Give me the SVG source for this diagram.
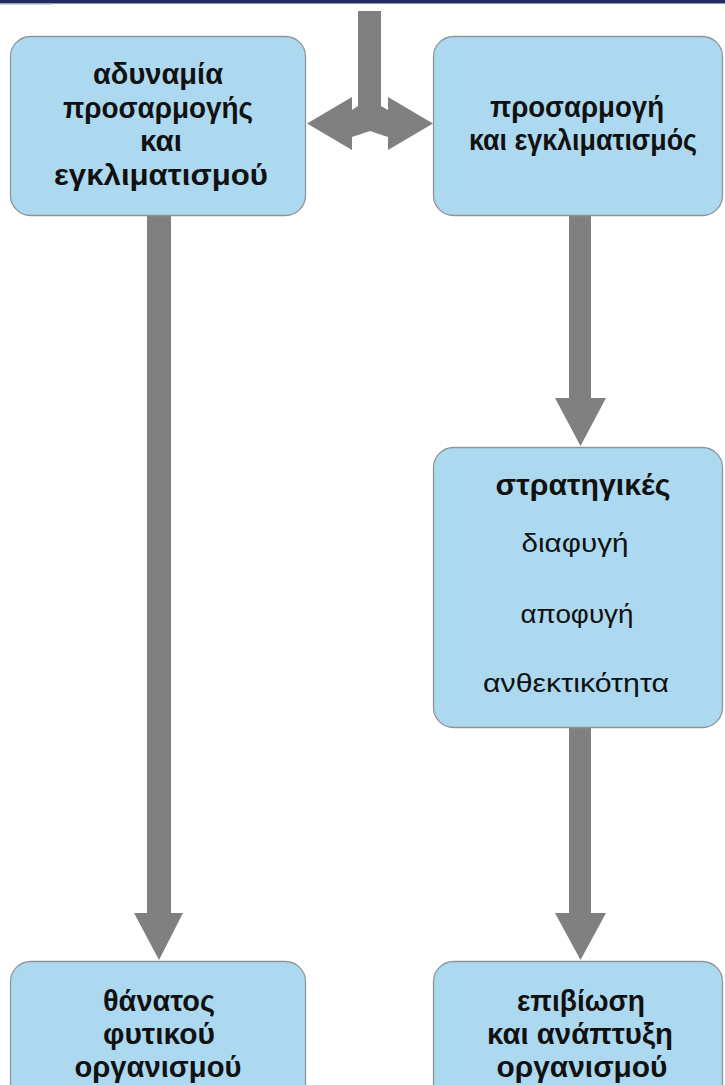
<svg xmlns="http://www.w3.org/2000/svg" width="725" height="1085" viewBox="0 0 725 1085">
<style>
.box{fill:#acd9f0;stroke:#8e9599;stroke-width:1.3}
.arrow{fill:#808080}
.b{font-family:"Liberation Sans",Arial,sans-serif;font-weight:bold;font-size:29px;fill:#111;text-anchor:middle}
.r{font-family:"Liberation Sans",Arial,sans-serif;font-size:26px;fill:#111;text-anchor:middle}
</style>
<rect width="725" height="1085" fill="#ffffff"/>
<rect x="0" y="0" width="725" height="3.5" fill="#232b5e"/>
<rect x="0" y="3" width="52" height="1.5" fill="#9aa3c8"/>
<g id="connectors">
<polygon class="arrow" points="358,11 381,11 381,106 388,110 388,97 433,123.5 388,150 388,137 370,131 352,137 352,150 307,123.5 352,97 352,110 358,106"/>
<polygon class="arrow" points="147,216 171,216 171,913 183,913 159,960 134,913 147,913"/>
<polygon class="arrow" points="569,216 591,216 591,398 606,398 580.5,446 555,398 569,398"/>
<polygon class="arrow" points="569,728 591,728 591,913 606,913 580.5,960 555,913 569,913"/>
</g>
<g id="node-adynamia">
<rect class="box" x="10.5" y="36.5" width="295" height="179" rx="20"/>
<text class="b" x="158" y="84" textLength="130" lengthAdjust="spacingAndGlyphs">αδυναμία</text>
<text class="b" x="158" y="118" textLength="190" lengthAdjust="spacingAndGlyphs">προσαρμογής</text>
<text class="b" x="161" y="151" textLength="42" lengthAdjust="spacingAndGlyphs">και</text>
<text class="b" x="161" y="185" textLength="214" lengthAdjust="spacingAndGlyphs">εγκλιματισμού</text>
</g>
<g id="node-prosarmogi">
<rect class="box" x="433.5" y="36.5" width="289" height="179" rx="20"/>
<text class="b" x="577" y="117" textLength="174" lengthAdjust="spacingAndGlyphs">προσαρμογή</text>
<text class="b" x="583" y="150" textLength="228" lengthAdjust="spacingAndGlyphs">και εγκλιματισμός</text>
</g>
<g id="node-strategikes">
<rect class="box" x="433.5" y="447.5" width="289" height="280" rx="20"/>
<text class="b" x="583" y="495" textLength="175" lengthAdjust="spacingAndGlyphs">στρατηγικές</text>
<text class="r" x="575" y="552" textLength="107" lengthAdjust="spacingAndGlyphs">διαφυγή</text>
<text class="r" x="577" y="623" textLength="113" lengthAdjust="spacingAndGlyphs">αποφυγή</text>
<text class="r" x="576" y="692" textLength="186" lengthAdjust="spacingAndGlyphs">ανθεκτικότητα</text>
</g>
<g id="node-thanatos">
<rect class="box" x="10.5" y="961.5" width="295" height="150" rx="20"/>
<text class="b" x="159" y="1011" textLength="112" lengthAdjust="spacingAndGlyphs">θάνατος</text>
<text class="b" x="159" y="1044" textLength="112" lengthAdjust="spacingAndGlyphs">φυτικού</text>
<text class="b" x="158" y="1077" textLength="167" lengthAdjust="spacingAndGlyphs">οργανισμού</text>
</g>
<g id="node-epiviosi">
<rect class="box" x="433.5" y="961.5" width="289" height="150" rx="20"/>
<text class="b" x="581" y="1011" textLength="128" lengthAdjust="spacingAndGlyphs">επιβίωση</text>
<text class="b" x="580" y="1044" textLength="186" lengthAdjust="spacingAndGlyphs">και ανάπτυξη</text>
<text class="b" x="582" y="1077" textLength="171" lengthAdjust="spacingAndGlyphs">οργανισμού</text>
</g>
</svg>
